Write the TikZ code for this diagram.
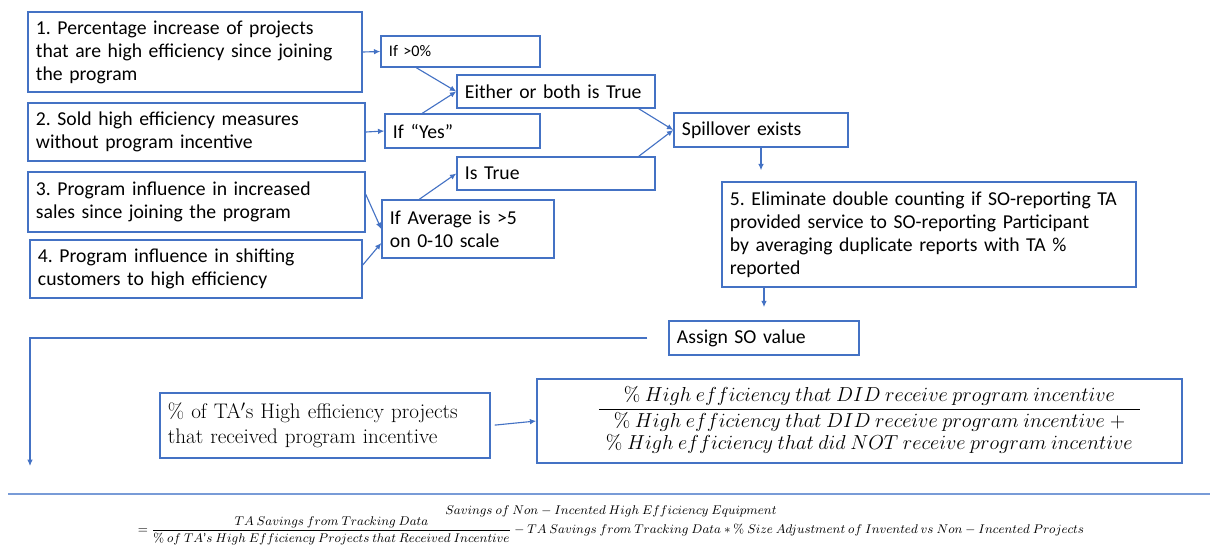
\documentclass[tikz,border=0pt]{standalone}
\usepackage{amsmath}
\usepackage[no-math]{fontspec}
\setmainfont{Carlito}
\newfontfamily\lmfont{Latin Modern Roman}
\usetikzlibrary{arrows.meta}
\definecolor{flowblue}{RGB}{68,114,196}
\definecolor{ruleblue}{RGB}{120,155,215}
\newcommand{\drawlink}{\draw[link]}
\frenchspacing
\tikzset{
  box/.style={draw=flowblue, line width=1pt, align=left, inner xsep=0.2cm,
    inner ysep=0pt, font=\fontsize{14}{16.4}\selectfont},
  link/.style={draw=flowblue, line width=0.8pt, -{Latex[length=4.5pt,width=4pt]}},
}

\begin{document}
\begin{tikzpicture}[x=0.025cm, y=-0.025cm]
\useasboundingbox (0,0) rectangle (1210,548);
% question boxes
\node[box, minimum width=8.35cm, minimum height=2cm, text width=7.95cm] (pct) at (195,52)
  {1. Percentage increase of projects\\that are high efficiency since joining\\the program};
\node[box, minimum width=8.425cm, minimum height=1.45cm, text width=8.025cm] (sold) at (196.5,132)
  {2. Sold high efficiency measures\\without program incentive};
\node[box, minimum width=8.425cm, minimum height=1.5cm, text width=8.025cm] (sales) at (196.5,202)
  {3. Program influence in increased\\sales since joining the program};
\node[box, minimum width=8.3cm, minimum height=1.45cm, text width=7.9cm] (shift) at (196,269)
  {4. Program influence in shifting\\customers to high efficiency};
% tests
\node[box, minimum width=3.975cm, minimum height=0.775cm, text width=3.575cm,
  font=\fontsize{11.5}{13}\selectfont] (ifpos) at (460.5,51.5) {If >0\%};
\node[box, minimum width=3.875cm, minimum height=0.85cm, text width=3.475cm] (ifyes) at (462.5,131) {If ``Yes''};
\node[box, minimum width=4.3cm, minimum height=1.45cm, text width=3.9cm] (ifavg) at (468,229)
  {If Average is >5\\on 0-10 scale};
\node[box, minimum width=4.95cm, minimum height=0.825cm, text width=4.55cm] (either) at (556,91.5) {Either or both is True};
\node[box, minimum width=4.95cm, minimum height=0.825cm, text width=4.55cm] (istrue) at (556,173.5) {Is True};
\node[box, minimum width=4.35cm, minimum height=0.85cm, text width=3.95cm] (spill) at (761,130) {Spillover exists};
\node[box, minimum width=10.35cm, minimum height=2.625cm, text width=9.95cm] (dedup) at (929,234.5)
  {5. Eliminate double counting if SO-reporting TA\\provided service to SO-reporting Participant\\by averaging duplicate reports with TA \%\\reported};
\node[box, minimum width=4.75cm, minimum height=0.85cm, text width=4.35cm] (assign) at (764,338) {Assign SO value};
% share of incented projects
\node[box, minimum width=8.25cm, minimum height=1.625cm, text width=7.85cm,
  font=\lmfont\fontsize{15}{17.8}\selectfont] (share) at (325,425.5)
  {\% of TA$^{\prime}$s High efficiency projects\\that received program incentive};
\node[box, align=center, minimum width=16.125cm, minimum height=2.1cm,
  font=\fontsize{14.5}{16}\selectfont] (ratio) at (859.5,421)
  {\hspace*{0.5cm}$\renewcommand{\arraystretch}{0.95}\dfrac{\%\ High\ efficiency\ that\ DID\ receive\ program\ incentive}
  {\begin{array}{c}\%\ High\ efficiency\ that\ DID\ receive\ program\ incentive\ +\\
  \%\ High\ efficiency\ that\ did\ NOT\ receive\ program\ incentive\end{array}}$};
\coordinate (loopend) at (30,466);
% connectors
\drawlink (pct.east) -- (ifpos.west);
\drawlink (sold.east) -- (ifyes.west);
\drawlink ([yshift=-0.575cm]sales.north east) -- (ifavg.west);
\drawlink ([yshift=0.1cm]shift.east) -- ([yshift=-0.35cm]ifavg.west);
\drawlink ([xshift=0.9cm]ifpos.south west) -- (either.west);
\drawlink ([xshift=0.95cm]ifyes.north west) -- (either.west);
\drawlink ([xshift=0.95cm]ifavg.north west) -- (istrue.west);
\drawlink ([xshift=-0.425cm]either.south east) -- (spill.west);
\drawlink ([xshift=-0.425cm]istrue.north east) -- (spill.west);
\drawlink[shorten >=0.275cm] (spill.south) -- (spill.south |- dedup.north);
\drawlink[shorten >=0.33cm] (assign.north |- dedup.south) -- (assign.north);
\drawlink[shorten <=0.52cm] (assign.west) -| (loopend);
\drawlink[shorten <=0.1cm] (share.east) -- (ratio.west);
% savings equation
\draw[ruleblue, line width=1.3pt] (8,494) -- (1210,494);
\node[align=center, inner sep=0pt, font=\fontsize{9.3}{11}\selectfont] (savings) at (611,525)
  {$Savings\ of\ Non-Incented\ High\ Efficiency\ Equipment$\\[-1pt]
  $=\dfrac{TA\ Savings\ from\ Tracking\ Data}{\%\ of\ TA\text{'}s\ High\ Efficiency\ Projects\ that\ Received\ Incentive}
  -TA\ Savings\ from\ Tracking\ Data\ast\%\ Size\ Adjustment\ of\ Invented\ vs\ Non-Incented\ Projects$};
\end{tikzpicture}
\end{document}
